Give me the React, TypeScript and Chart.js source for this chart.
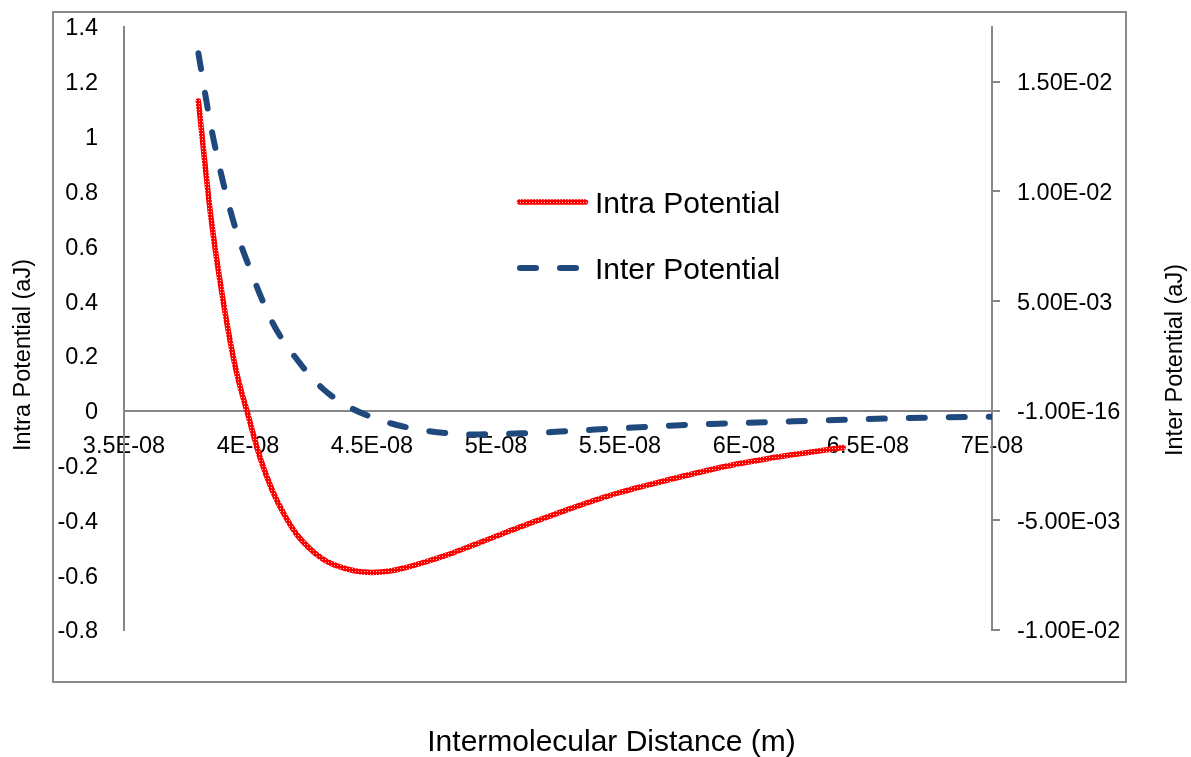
import React, { useEffect, useRef } from "react";
import { Chart, registerables } from "chart.js";

Chart.register(...registerables);

// ---- axis ticks ----
const distanceTicks = [3.5e-8, 4e-8, 4.5e-8, 5e-8, 5.5e-8, 6e-8, 6.5e-8, 7e-8];
const distanceTickLabels = ["3.5E-08", "4E-08", "4.5E-08", "5E-08", "5.5E-08", "6E-08", "6.5E-08", "7E-08"];
const intraTicks = [-0.8, -0.6, -0.4, -0.2, 0, 0.2, 0.4, 0.6, 0.8, 1, 1.2, 1.4];
const intraTickLabels = ["-0.8", "-0.6", "-0.4", "-0.2", "0", "0.2", "0.4", "0.6", "0.8", "1", "1.2", "1.4"];
const interTicks = [-0.01, -0.005, 0, 0.005, 0.01, 0.015];
const interTickLabels = ["-1.00E-02", "-5.00E-03", "-1.00E-16", "5.00E-03", "1.00E-02", "1.50E-02"];

// ---- series ----
const intraLabel = "Intra Potential";
const intraDistance = [
  3.8e-8, 3.85e-8, 3.9e-8, 3.95e-8, 4.0e-8, 4.05e-8, 4.1e-8, 4.15e-8, 4.2e-8, 4.3e-8, 4.4e-8,
  4.5e-8, 4.6e-8, 4.7e-8, 4.8e-8, 4.9e-8, 5.0e-8, 5.1e-8, 5.2e-8, 5.3e-8, 5.4e-8, 5.5e-8,
  5.6e-8, 5.7e-8, 5.8e-8, 5.9e-8, 6.0e-8, 6.1e-8, 6.2e-8, 6.3e-8, 6.4e-8,
];
const intraPotential = [
  1.13, 0.71, 0.40, 0.155, -0.015, -0.175, -0.295, -0.385, -0.455, -0.54, -0.578,
  -0.59, -0.58, -0.556, -0.527, -0.493, -0.458, -0.423, -0.39, -0.357, -0.326, -0.298,
  -0.274, -0.251, -0.229, -0.208, -0.19, -0.174, -0.16, -0.147, -0.134,
];

const interLabel = "Inter Potential";
const interDistance = [
  3.8e-8, 3.85e-8, 3.9e-8, 3.95e-8, 4.0e-8, 4.1e-8, 4.2e-8, 4.3e-8, 4.4e-8, 4.5e-8,
  4.6e-8, 4.7e-8, 4.8e-8, 4.9e-8, 5.0e-8, 5.1e-8, 5.2e-8, 5.3e-8, 5.4e-8, 5.5e-8,
  5.6e-8, 5.7e-8, 5.8e-8, 5.9e-8, 6.0e-8, 6.2e-8, 6.4e-8, 6.6e-8, 6.8e-8, 7.0e-8,
];
const interPotential = [
  0.0163, 0.013, 0.0104, 0.0083, 0.0067, 0.004, 0.0023, 0.00102, 0.00022, -0.0003,
  -0.00065, -0.00088, -0.00102, -0.00108, -0.00106, -0.00103, -0.00099, -0.00092, -0.00086, -0.0008,
  -0.00074, -0.00068, -0.00063, -0.00059, -0.00055, -0.00048, -0.00041, -0.00035, -0.0003, -0.00027,
];

const xTitle = "Intermolecular Distance (m)";
const yTitle = "Intra Potential (aJ)";
const y1Title = "Inter Potential (aJ)";

const FONT = "'Liberation Sans', Arial, sans-serif";
const AXIS_GRAY = "#868686";
const BLUE = "#1F497D";
const BLUE_DASH = [16, 24];

export default function App() {
  const ref = useRef<HTMLCanvasElement>(null);

  useEffect(() => {
    document.body.style.margin = "0";
    const canvas = ref.current!;
    const tile = document.createElement("canvas");
    tile.width = 3;
    tile.height = 3;
    const tctx = tile.getContext("2d")!;
    tctx.fillStyle = "#ff0000";
    tctx.fillRect(0, 0, 3, 3);
    tctx.fillStyle = "#ffc4c4";
    tctx.fillRect(1, 1, 1, 1);
    const redPattern = canvas.getContext("2d")!.createPattern(tile, "repeat")!;

    const frame = {
      id: "frame",
      beforeDraw(chart: any) {
        const ctx = chart.ctx;
        ctx.save();
        ctx.strokeStyle = "#8a8a8a";
        ctx.lineWidth = 2;
        ctx.strokeRect(53, 12, 1073, 670);
        ctx.restore();
      },
    };

    const texts = {
      id: "texts",
      afterDraw(chart: any) {
        const ctx = chart.ctx;
        ctx.save();
        ctx.fillStyle = "#000";
        // legend
        ctx.lineCap = "round";
        ctx.strokeStyle = redPattern;
        ctx.lineWidth = 5.5;
        ctx.beginPath();
        ctx.moveTo(519.5, 202);
        ctx.lineTo(585.5, 202);
        ctx.stroke();
        ctx.strokeStyle = BLUE;
        ctx.lineWidth = 6;
        ctx.setLineDash(BLUE_DASH);
        ctx.beginPath();
        ctx.moveTo(520, 268);
        ctx.lineTo(577, 268);
        ctx.stroke();
        ctx.setLineDash([]);
        ctx.font = `30px ${FONT}`;
        ctx.textAlign = "left";
        ctx.textBaseline = "alphabetic";
        ctx.fillText(intraLabel, 595, 213);
        ctx.fillText(interLabel, 595, 279);
        // x title
        ctx.textAlign = "center";
        ctx.fillText(xTitle, 611.5, 751);
        // y titles
        ctx.font = `23.5px ${FONT}`;
        ctx.save();
        ctx.translate(29.5, 355);
        ctx.rotate(-Math.PI / 2);
        ctx.fillText(yTitle, 0, 0);
        ctx.restore();
        ctx.save();
        ctx.translate(1181.5, 360);
        ctx.rotate(-Math.PI / 2);
        ctx.fillText(y1Title, 0, 0);
        ctx.restore();
        ctx.restore();
      },
    };

    const tickFont = { family: FONT, size: 23.5 };

    const chart = new Chart(canvas, {
      type: "line",
      data: {
        datasets: [
          {
            label: intraLabel,
            data: intraDistance.map((x, i) => ({ x, y: intraPotential[i] })),
            yAxisID: "y",
            borderColor: redPattern as any,
            borderWidth: 5.5,
            borderCapStyle: "round",
            borderJoinStyle: "round",
            pointRadius: 0,
            cubicInterpolationMode: "monotone",
            fill: false,
          },
          {
            label: interLabel,
            data: interDistance.map((x, i) => ({ x, y: interPotential[i] })),
            yAxisID: "y1",
            borderColor: BLUE,
            borderWidth: 6,
            borderDash: BLUE_DASH,
            borderCapStyle: "round",
            borderJoinStyle: "round",
            pointRadius: 0,
            cubicInterpolationMode: "monotone",
            fill: false,
          },
        ],
      },
      options: {
        animation: false,
        responsive: false,
        devicePixelRatio: 1,
        layout: { padding: { left: 0, right: 0, top: 27, bottom: 127 } },
        plugins: { legend: { display: false }, tooltip: { enabled: false } },
        scales: {
          x: {
            type: "linear",
            position: { y: 0 } as any,
            min: 3.5e-8,
            max: 7e-8,
            afterBuildTicks: (s: any) => {
              s.ticks = distanceTicks.map((v) => ({ value: v }));
            },
            ticks: {
              callback: (_v: any, i: number) => distanceTickLabels[i],
              font: tickFont,
              color: "#000",
              padding: 22,
              maxRotation: 0,
              autoSkip: false,
            },
            grid: { display: false, drawTicks: false },
            border: { display: true, color: AXIS_GRAY, width: 2 },
          },
          y: {
            type: "linear",
            position: "left",
            min: -0.8,
            max: 1.4,
            afterBuildTicks: (s: any) => {
              s.ticks = intraTicks.map((v) => ({ value: v }));
            },
            afterFit: (s: any) => {
              s.width = 124;
              s.paddingTop = 0;
              s.paddingBottom = 0;
            },
            ticks: {
              callback: (_v: any, i: number) => intraTickLabels[i],
              font: tickFont,
              color: "#000",
              padding: 26,
              labelOffset: 2,
              autoSkip: false,
            },
            grid: { display: false, drawTicks: false },
            border: { display: true, color: AXIS_GRAY, width: 2 },
          },
          y1: {
            type: "linear",
            position: "right",
            min: -0.01,
            max: 0.0175,
            afterBuildTicks: (s: any) => {
              s.ticks = interTicks.map((v) => ({ value: v }));
            },
            afterFit: (s: any) => {
              s.width = 199;
              s.paddingTop = 0;
              s.paddingBottom = 0;
            },
            ticks: {
              callback: (_v: any, i: number) => interTickLabels[i],
              font: tickFont,
              color: "#000",
              padding: 17,
              labelOffset: 2,
              autoSkip: false,
            },
            grid: {
              display: true,
              drawOnChartArea: false,
              drawTicks: true,
              tickLength: 8,
              color: AXIS_GRAY,
              lineWidth: 2,
            },
            border: { display: true, color: AXIS_GRAY, width: 2 },
          },
        },
      },
      plugins: [frame, texts],
    });

    return () => chart.destroy();
  }, []);

  return (
    <div style={{ width: 1191, height: 757 }}>
      <canvas ref={ref} width={1191} height={757} style={{ display: "block" }} />
    </div>
  );
}
